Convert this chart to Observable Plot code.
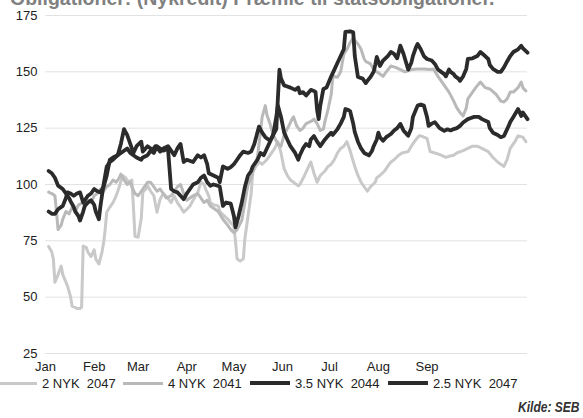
<!DOCTYPE html>
<html>
<head>
<meta charset="utf-8">
<script src="https://cdn.jsdelivr.net/npm/d3@7"></script>
<script src="https://cdn.jsdelivr.net/npm/@observablehq/plot@0.6"></script>
<style>
  html, body { margin: 0; padding: 0; background: #fff; }
  #wrap { position: relative; width: 583px; height: 418px; overflow: hidden;
          font-family: "Liberation Sans", Arial, sans-serif; background: #fff; }
  #chart { position: absolute; left: 0; top: 0; z-index: 1; }
  #title { position: absolute; left: 10px; top: -11px; font-size: 19.5px; line-height: 19px;
           font-weight: bold; color: #808080; white-space: nowrap; z-index: 2; }
  #legend { position: absolute; left: 0; top: 374px; width: 583px; height: 18px; z-index: 2; }
  .item { position: absolute; top: 0; height: 18px; display: flex; align-items: center;
          font-size: 13px; color: #222; white-space: pre; }
  .sw { display: inline-block; width: 40px; margin-right: 5px; }
  #source { position: absolute; right: 3px; top: 399px; z-index: 2;
            font-family: "Liberation Sans", Arial, sans-serif;
            font-style: italic; font-weight: bold; font-size: 14px; color: #333;
            transform: scaleX(0.86); transform-origin: right center; }
</style>
</head>
<body>
<div id="wrap">
  <div id="chart"></div>
  <div id="title"></div>
  <div id="legend"></div>
  <div id="source"></div>
</div>
<script>
// Spread series, day offsets counted from 1 January
const yearStart = Date.UTC(2017, 0, 1);
const lastDay = 307;

const seriesNames = ["2 NYK  2047", "4 NYK  2041", "3.5 NYK  2044", "2.5 NYK  2047"];
const seriesColors = ["#c9c9c9", "#b9b9b9", "#2b2b2b", "#2b2b2b"];
const seriesWidths = [3, 3, 3.8, 3.8];

const days2_2047 = [2,4,5,6,8,10,11,14,16,17,20,22,23,24,26,27,29,31,32,34,36,37,38,39,41,43,45,47,49,51,53,55,56,57,59,61,62,64,65,67,69,71,73,75,78,80,82,84,86,88,90,92,94,97,99,101,102,104,105,107,110,111,114,116,118,120,121,122,124,126,127,129,131,132,134,136,138,141,143,146,148,150,152,154,156,158,161,162,165,167,169,171,173,175,178,180,182,184,186,188,190,192,194,197,199,201,203,205,207,210,211,213,216,218,220,222,225,227,231,233,236,238,239,241,243,245,248,252,255,257,260,262,266,269,272,275,278,282,285,288,292,294,296,299,301,304,306];
const vals2_2047 = [72.5,70,67,56.6,60,63.8,60,55,50,46,45,45,45.5,72.7,72,70,68,71,67,64.7,70,74,80,87.7,90,92,95,99,104,103,101,102,90,77,76.6,85,96.6,98,99.4,97,95,87.7,93.5,96,94,92,95,92,90,87.7,89,90.5,93,96.5,101,100,98,95,92,91,90.5,88,86,84.7,83,81.6,75,67,66,67,76,86,96,105.6,108,110,109,111,113,116,119,114,107,104,102,101,99.4,100,104,107,110,105,101,104,106,108,109,111,114,116,117,119,115,108,104,101,99,97,99,101,103,104,106,108,110,111,113,114,114.6,117,120,121.6,121.6,121,120.5,114.6,114,113,112,112.5,113,114,115,116,117,117,116,114.6,112,110,108,111,116,119,121.6,121,119];

const days4_2041 = [2,4,6,7,8,10,11,13,15,17,19,21,24,25,27,29,31,33,35,37,39,41,43,45,47,48,50,52,54,55,57,59,61,63,65,67,69,71,73,75,77,80,82,84,86,88,90,92,94,97,99,101,103,105,108,110,113,116,118,120,122,125,127,129,131,133,135,136,138,140,141,143,145,148,150,152,155,157,158,160,162,164,166,169,171,173,175,177,178,180,182,183,186,188,190,192,194,196,197,199,201,203,204,207,209,211,215,217,220,223,226,229,233,237,241,245,247,250,254,257,260,262,264,266,268,269,271,274,277,280,283,287,290,292,294,296,298,301,303,304,306];
const vals4_2041 = [96.6,96,95,88,80,82,84.6,88,87,90,88,91,92,90,93,92,95,96,98,97,99,100,102,101,103,104.6,102,100,101,99,96,95,97,99,101,101,99,97,98,96,94,95,97,99,100,96,93,94,95,96,94,92,93,90.5,89,88,84.6,82,80,78.6,80,84,92,100,103,108,112,118,130,135,131,127,122,118,117,122,126,129,130,126,124,125,127,128,129,127,124,124.6,128,133.5,140,148,147.6,150,157.8,160,163,165,164,162.4,160,155.7,154.6,153.5,151.3,150,148,150,152.6,152,151,150,151,151.3,151.3,151,151.3,148,144,141,137,134,132,130.4,134,138,140,143,145.5,143,142.4,140,137,136.6,138,141,141,143,145.5,143,141.5];

const days35_2044 = [2,4,6,8,11,13,15,16,18,19,21,22,24,25,27,29,31,32,34,35,37,39,41,43,46,48,50,52,53,55,56,58,61,62,65,67,68,70,71,73,75,78,80,82,84,86,88,90,94,97,99,101,103,104,107,110,111,113,116,118,120,122,124,126,129,131,133,136,138,140,142,143,145,147,148,149,150,152,154,156,159,161,162,164,166,169,171,172,173,174,175,177,179,182,184,186,188,190,191,194,196,197,199,202,204,205,207,209,210,211,213,215,218,220,222,224,226,228,231,233,234,236,237,239,241,243,246,248,250,252,254,255,257,258,260,261,263,264,266,268,269,272,275,277,280,282,283,285,288,290,292,294,296,298,301,303,304,307];
const vals35_2044 = [106,105,103,99.5,98,96,94,92.5,90,88,86,84,88,90.5,92,93,91,88,84.6,90.5,100,108,110,111,113,118,124.6,122,120,116,114,117,119,114.6,117,116,115,117,116.6,114.6,116,117,115,113,116,118,110,111,110,113,112,113,109,105,104,103,101,108,107,107.7,109,111,113,114.6,114,114.6,118,125.7,123,121,120,119.5,122,124.6,138,151,147,144,143.5,143,142,143,140.5,141,139.5,142,141.5,141,133,129,135,142.4,143,148,151,154,157,160,167.7,168,167.5,157,147.7,147,145,146,147.7,150,153,156.6,152.6,155,157,158.8,158,156,161.6,158,151,154,157,161,162.4,160,157,155.7,155,153.5,151,150,149,148,151,150,149,148,147,146,148,151.3,155.7,156,157,158.8,157,155.7,153,151.3,150,150,152,154.6,157,158.8,160,161.6,160.5,158.5];

const days25_2047 = [2,4,6,8,11,13,14,16,18,20,22,24,25,27,29,31,33,35,37,39,41,43,46,48,50,52,54,56,58,61,62,65,67,69,71,73,75,78,80,82,84,86,88,90,92,94,97,99,101,103,105,107,110,111,113,115,118,120,121,123,125,127,129,131,132,135,137,139,141,143,145,147,148,150,152,154,156,159,161,162,164,166,168,169,171,173,175,178,180,182,183,186,188,190,191,193,194,196,197,199,201,203,206,208,209,211,212,213,215,217,220,222,224,226,228,231,233,234,237,239,241,243,244,246,248,251,254,256,258,260,262,264,266,269,271,273,276,278,282,283,285,288,290,292,293,295,296,298,301,303,304,307];
const vals25_2047 = [88,87,87,89,90.5,94,96.5,96,95,96,96.5,92,93,95,96,98,97,96.5,99,104,111,112,113,114,115,116,114,113,112,111,112,113,115,114,117,116,115,116,98,97,96.5,95,93.5,96,98,100,101,103,104,101,99.4,100,99.4,99,90.5,92,91.5,86,81,86,92,99,104,106,108,111,114,113,116,119,122,130,135,130,123,120,117,114,111,113,116,118,117,120,121.5,119,117,120,121.6,123,122,124.6,127,130,133.5,133,132.6,127,123.2,119,116,114,112.9,115,117,120,123,121,119.4,121,122.4,124,125,126.9,124,121.6,125,130,135,135.5,135,130,126,127,127.7,125,123.8,124.5,124,124.6,125,126,127.5,129,129.5,130,130,129,127.7,125,123,122,121,121.5,123,126,127.7,130,133.5,130.4,132,129];

const yTicks = [25, 50, 75, 100, 125, 150, 175];
const monthTicks = [0, 1, 2, 3, 4, 5, 6, 7, 8];

const titleText = "Obligationer: (Nykredit) Præmie til statsobligationer.";
const sourceText = "Kilde: SEB";

const toDate = d => new Date(yearStart + d * 864e5);
const build = (days, vals) => days.map((d, i) => ({date: toDate(d), value: vals[i]}));

const seriesData = [
  build(days2_2047, vals2_2047),
  build(days4_2041, vals4_2041),
  build(days35_2044, vals35_2044),
  build(days25_2047, vals25_2047)
];

const lineMarks = seriesData.map((rows, i) =>
  Plot.lineY(rows, {
    x: "date", y: "value",
    stroke: seriesColors[i], strokeWidth: seriesWidths[i],
    strokeLinejoin: "round", strokeLinecap: "round"
  })
);

const chart = Plot.plot({
  width: 583,
  height: 375,
  marginLeft: 45,
  marginRight: 56,
  marginTop: 15,
  marginBottom: 22,
  style: {fontFamily: "'Liberation Sans', Arial, sans-serif", fontSize: "13px", color: "#222", background: "transparent"},
  x: {type: "utc", domain: [toDate(0), toDate(lastDay)]},
  y: {domain: [25, 175]},
  marks: [
    Plot.gridY(yTicks, {stroke: "#e2e2e2", strokeOpacity: 1, strokeWidth: 1}),
    ...lineMarks,
    Plot.axisY(yTicks, {tickSize: 0, tickPadding: 8, fontSize: 13, label: null}),
    Plot.axisX(monthTicks.map(m => new Date(Date.UTC(2017, m, 1))), {
      tickSize: 0, tickPadding: 8, fontSize: 13, label: null,
      tickFormat: d3.utcFormat("%b")
    })
  ]
});
document.getElementById("chart").appendChild(chart);

document.getElementById("title").textContent = titleText;
document.getElementById("source").textContent = sourceText;

// Legend row below the plot
const legendLefts = [-3, 123, 250, 388];
const legendHeights = [3, 3, 4, 4];
const legend = document.getElementById("legend");
seriesNames.forEach((name, i) => {
  const item = document.createElement("div");
  item.className = "item";
  item.style.left = legendLefts[i] + "px";
  const sw = document.createElement("span");
  sw.className = "sw";
  sw.style.height = legendHeights[i] + "px";
  sw.style.background = seriesColors[i];
  const label = document.createElement("span");
  label.textContent = name;
  item.appendChild(sw);
  item.appendChild(label);
  legend.appendChild(item);
});
</script>
</body>
</html>
